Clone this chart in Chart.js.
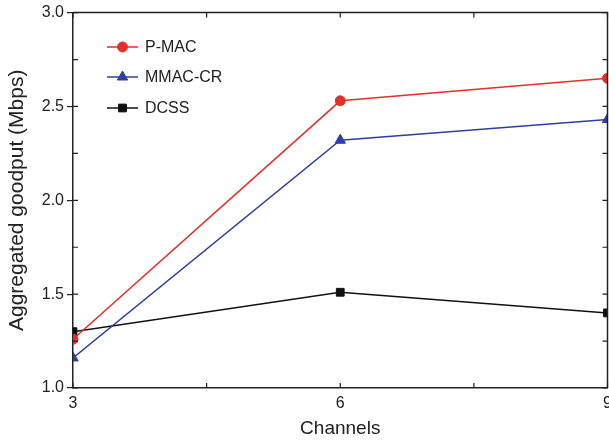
<!DOCTYPE html>
<html>
<head>
<meta charset="utf-8">
<script src="https://cdn.jsdelivr.net/npm/chart.js@4.4.1/dist/chart.umd.min.js"></script>
<style>
  html, body { margin: 0; padding: 0; background: #fff; }
  #wrap { width: 609px; height: 440px; }
</style>
</head>
<body>
<div id="wrap"><canvas id="chart" width="609" height="440"></canvas></div>
<script>
/* ── Data ── */
const CHANNELS = [3, 6, 9];
const PMAC = [1.26, 2.53, 2.65];
const MMACCR = [1.16, 2.32, 2.43];
const DCSS = [1.30, 1.51, 1.40];

const Y_MINOR = [1.25, 1.75, 2.25, 2.75];
const Y_MAJOR = [1.0, 1.5, 2.0, 2.5, 3.0];
const X_MINOR = [4.5, 7.5];
const X_MAJOR = [3, 6, 9];

const AXIS = '#222';
const FONT = 'Liberation Sans, Arial, sans-serif';

const toXY = (ys) => ys.map((y, i) => ({ x: CHANNELS[i], y }));

/* ── Frame + inward ticks ── */
const framePlugin = {
  id: 'frame',
  afterDatasetsDraw(chart) {
    const { ctx, chartArea: a, scales: { x, y } } = chart;
    ctx.save();
    ctx.strokeStyle = AXIS;
    ctx.lineWidth = 1.5;
    ctx.beginPath();
    ctx.moveTo(a.left, a.top); ctx.lineTo(a.right, a.top); ctx.lineTo(a.right, a.bottom);
    ctx.stroke();
    ctx.lineWidth = 1.2;
    ctx.beginPath();
    const len = 5;
    [...Y_MAJOR, ...Y_MINOR].forEach(v => {
      const py = y.getPixelForValue(v);
      ctx.moveTo(a.left, py); ctx.lineTo(a.left + len, py);
      ctx.moveTo(a.right, py); ctx.lineTo(a.right - len, py);
    });
    [...X_MAJOR, ...X_MINOR].forEach(v => {
      const px = x.getPixelForValue(v);
      ctx.moveTo(px, a.bottom); ctx.lineTo(px, a.bottom - len);
      ctx.moveTo(px, a.top); ctx.lineTo(px, a.top + len);
    });
    ctx.stroke();
    ctx.restore();
  }
};

/* ── Legend inside the plot ── */
const legendPlugin = {
  id: 'insideLegend',
  afterDraw(chart) {
    const { ctx } = chart;
    const rows = [47, 77, 108];
    ctx.save();
    chart.data.datasets.forEach((ds, i) => {
      const yy = rows[i];
      ctx.strokeStyle = ds.borderColor;
      ctx.lineWidth = 1.5;
      ctx.beginPath();
      ctx.moveTo(107, yy); ctx.lineTo(138, yy);
      ctx.stroke();
      ctx.fillStyle = ds.borderColor;
      ctx.lineWidth = 1;
      Chart.helpers.drawPoint(ctx, {
        pointStyle: ds.pointStyle, radius: ds.pointRadius, borderWidth: 1, rotation: 0
      }, 122.5, yy);
      ctx.fillStyle = '#222';
      ctx.font = '16px ' + FONT;
      ctx.textBaseline = 'middle';
      ctx.fillText(ds.label, 145, yy + 1);
    });
    ctx.restore();
  }
};

function series(label, data, color, style, r) {
  return {
    label,
    data: toXY(data),
    borderColor: color,
    backgroundColor: color,
    pointBackgroundColor: color,
    pointBorderColor: color,
    pointStyle: style,
    pointRadius: r,
    pointBorderWidth: 1,
    borderWidth: 1.5,
    tension: 0,
  };
}

const chart = new Chart(document.getElementById('chart'), {
  type: 'line',
  data: {
    datasets: [
      series('P-MAC', PMAC, '#e2312b', 'circle', 5),
      series('MMAC-CR', MMACCR, '#2f3f9f', 'triangle', 6),
      series('DCSS', DCSS, '#111111', 'rect', 5.5),
    ]
  },
  options: {
    responsive: false,
    animation: false,
    devicePixelRatio: 1,
    layout: { autoPadding: false, padding: { top: 12, right: 1.5, left: 0, bottom: 0 } },
    plugins: { legend: { display: false }, tooltip: { enabled: false } },
    scales: {
      x: {
        type: 'linear', min: 3, max: 9,
        ticks: { stepSize: 3, padding: 6, color: AXIS, font: { family: FONT, size: 16 } },
        grid: { display: true, drawOnChartArea: false, drawTicks: false },
        border: { color: AXIS, width: 1.5 },
        title: { display: true, text: 'Channels', color: AXIS, font: { family: FONT, size: 19 }, padding: { top: 0, bottom: 0 } },
        afterFit(s) { s.height = 52; s.paddingRight = 0; s.paddingLeft = 0; },
      },
      y: {
        min: 1, max: 3,
        ticks: { stepSize: 0.5, padding: 3, color: AXIS, font: { family: FONT, size: 16 }, callback: v => v.toFixed(1) },
        grid: { display: true, drawOnChartArea: false, drawTicks: true, tickLength: 6, color: AXIS, lineWidth: 1.2 },
        border: { color: AXIS, width: 1.5 },
        title: { display: true, text: 'Aggregated goodput (Mbps)', color: AXIS, font: { family: FONT, size: 21 }, padding: { top: 5, bottom: 0 } },
        afterFit(s) { s.width = 73; },
      }
    }
  },
  plugins: [framePlugin, legendPlugin]
});
</script>
</body>
</html>
